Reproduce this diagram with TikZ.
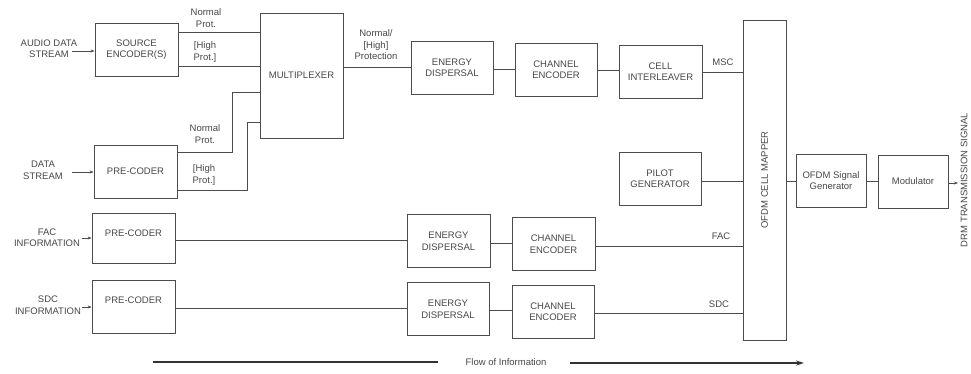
\documentclass[tikz,border=0pt]{standalone}
\usepackage{fontspec}
\setmainfont{Liberation Sans}
\usetikzlibrary{calc,arrows.meta}
\definecolor{linec}{gray}{0.30}
\definecolor{txtc}{gray}{0.28}
\begin{document}
\begin{tikzpicture}[x=1pt,y=-1pt,
  box/.style={draw=linec, line width=0.8pt, minimum width=83pt, minimum height=53pt,
    inner sep=0pt, align=center, font=\fontsize{9.5}{11.5}\selectfont, text=txtc},
  lbl/.style={align=center, font=\fontsize{9.5}{11.5}\selectfont, text=txtc, inner sep=0pt},
  conn/.style={draw=linec, line width=0.8pt},
  arr/.style={conn, -{Stealth[length=4pt,width=3pt]}},
  flowline/.style={draw=black!80, line width=1.4pt}]
\useasboundingbox (0,0) rectangle (971,373);

% boxes
\node[box] (se) at (136.5,49.5) {SOURCE\\ENCODER(S)};
\node[box, minimum height=125pt] (mux) at (301.5,75.5) {MULTIPLEXER};
\node[box] (pc1) at (135.5,171.5) {PRE-CODER};
\node[box, minimum width=82pt] (ed1) at (452,67.5) {ENERGY\\DISPERSAL};
\node[box, minimum width=82pt] (ce1) at (556,69.5) {CHANNEL\\ENCODER};
\node[box] (ci) at (660.5,71.5) {CELL\\INTERLEAVER};
\node[box, minimum width=82pt] (pilot) at (660,178.5) {PILOT\\GENERATOR};
\node[box, minimum width=43pt, minimum height=320pt] (mapper) at (764.5,180) {};
\node[lbl, rotate=90] (mappertxt) at (764.5,180) {OFDM CELL MAPPER};
\node[box, minimum width=70pt] (ofdm) at (831,180.5) {OFDM Signal\\Generator};
\node[box, minimum width=70pt] (mod) at (913,181.5) {Modulator};

\node[box, minimum height=50pt] (pc2) at (133.5,238) {};
\node[lbl] (pc2t) at ($(pc2.north)+(0,21)$) {PRE-CODER};
\node[box] (pc3) at (133.5,306.5) {};
\node[lbl] (pc3t) at ($(pc3.north)+(0,21)$) {PRE-CODER};
\node[box] (ed2) at (448.5,241) {ENERGY\\DISPERSAL};
\node[box] (ce2) at (553.5,244) {CHANNEL\\ENCODER};
\node[box, minimum width=82pt] (ed3) at (448,309) {ENERGY\\DISPERSAL};
\node[box, minimum width=82pt] (ce3) at (553,311.5) {CHANNEL\\ENCODER};

% input labels and arrows
\node[lbl] (audio) at (49,48.5) {AUDIO DATA\\STREAM};
\node[lbl] (data) at (43,170.5) {DATA\\STREAM};
\node[lbl] (fac) at (47,237.5) {FAC\\INFORMATION};
\node[lbl] (sdc) at (48,305) {SDC\\INFORMATION};
\coordinate (ain) at (72,51);
\coordinate (din) at (72,172);
\coordinate (fin) at (82,238);
\coordinate (sin) at (82,307);
\draw[arr] (ain) -- (se.west |- ain);
\draw[arr] (din) -- (pc1.west |- din);
\draw[arr] (fin) -- (pc2.west |- fin);
\draw[arr] (sin) -- (pc3.west |- sin);

% source encoder to multiplexer
\draw[conn] (se.east |- 0,32) -- (mux.west |- 0,32);
\draw[conn] (se.east |- 0,66) -- (mux.west |- 0,66);
\node[lbl] (np1) at (206,18) {Normal\\Prot.};
\node[lbl] (hp1) at (205,52) {[High\\Prot.]};

% pre-coder to multiplexer
\draw[conn] (pc1.east |- 0,152) -- (232,152) -- (232,92) -- (mux.west |- 0,92);
\draw[conn] (pc1.east |- 0,190) -- (247,190) -- (247,122) -- (mux.west |- 0,122);
\node[lbl] (np2) at (205,134) {Normal\\Prot.};
\node[lbl] (hp2) at (204,175) {[High\\Prot.]};

% MSC chain
\draw[conn] (mux.east |- 0,67) -- (ed1.west |- 0,67);
\node[lbl] (nhp) at (376,45) {Normal/\\{[High]}\\Protection};
\draw[conn] (ed1.east |- 0,69) -- (ce1.west |- 0,69);
\draw[conn] (ce1.east |- 0,70) -- (ci.west |- 0,70);
\draw[conn] (ci.east |- 0,72) -- (mapper.west |- 0,72);
\node[lbl] (msc) at (723,62) {MSC};

% pilot
\draw[conn] (pilot.east |- 0,181) -- (mapper.west |- 0,181);

% FAC chain
\draw[conn] (pc2.east |- 0,240) -- (ed2.west |- 0,240);
\draw[conn] (ed2.east |- 0,243) -- (ce2.west |- 0,243);
\draw[conn] (ce2.east |- 0,246) -- (mapper.west |- 0,246);
\node[lbl] (faclbl) at (721,236) {FAC};

% SDC chain
\draw[conn] (pc3.east |- 0,308) -- (ed3.west |- 0,308);
\draw[conn] (ed3.east |- 0,310) -- (ce3.west |- 0,310);
\draw[conn] (ce3.east |- 0,313) -- (mapper.west |- 0,313);
\node[lbl] (sdclbl) at (719,304) {SDC};

% output chain
\draw[conn] (mapper.east |- 0,181) -- (ofdm.west |- 0,181);
\draw[conn] (ofdm.east |- 0,181) -- (mod.west |- 0,181);
\coordinate (out) at (958,183);
\draw[arr] (mod.east |- out) -- (out);
\node[lbl, rotate=90] (drm) at (964,180) {DRM TRANSMISSION SIGNAL};

% flow of information
\node[lbl] (flow) at (506,362) {Flow of Information};
\coordinate (f1) at (153,362);
\coordinate (f2) at (438,362);
\coordinate (f3) at (570,363);
\coordinate (f4) at (804,363);
\draw[flowline] (f1) -- (f2);
\draw[flowline, -{Stealth[length=8pt,width=5pt]}] (f3) -- (f4);
\end{tikzpicture}
\end{document}
